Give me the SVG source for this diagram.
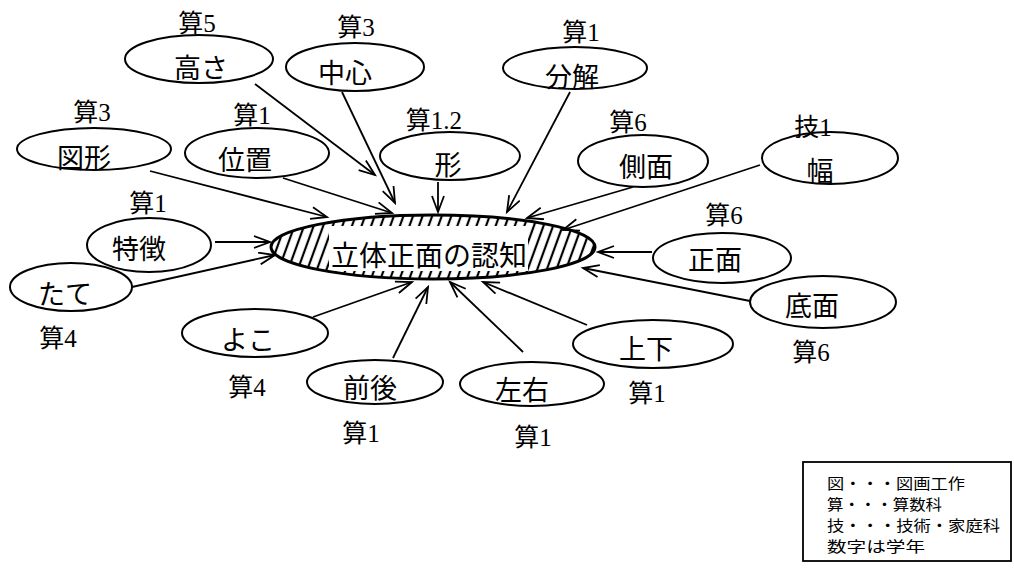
<svg xmlns="http://www.w3.org/2000/svg" width="1014" height="572" viewBox="0 0 1014 572">
<style>
.node{fill:#fff;stroke:#000;stroke-width:2}
.lbl{font-family:"Noto Sans CJK JP",sans-serif;font-size:27px;text-anchor:middle;fill:#000}
.sub{font-family:"Liberation Serif","Noto Sans CJK JP",serif;font-size:25px;text-anchor:middle;fill:#000}
.leg{font-family:"Noto Sans CJK JP",sans-serif;font-size:15px;fill:#000}
.con line{stroke:#000;stroke-width:1.8;marker-end:url(#arr)}
</style>
<defs>
<marker id="arr" markerWidth="20" markerHeight="14" refX="17" refY="7" orient="auto" markerUnits="userSpaceOnUse">
<path d="M1,1 L17,7 L1,13" fill="none" stroke="#000" stroke-width="1.8"/>
</marker>
<pattern id="hatch" width="9" height="20" patternUnits="userSpaceOnUse" patternTransform="rotate(20)">
<line x1="3" y1="0" x2="3" y2="20" stroke="#000" stroke-width="2.2"/>
</pattern>
<clipPath id="cclip"><ellipse cx="433" cy="247" rx="162" ry="32"/></clipPath>
</defs>
<rect width="1014" height="572" fill="#fff"/>

<g id="connectors" class="con">
<line x1="255" y1="84" x2="375" y2="175"/>
<line x1="342" y1="92" x2="395" y2="203"/>
<line x1="150" y1="171" x2="327" y2="217"/>
<line x1="283" y1="178" x2="392" y2="213"/>
<line x1="438" y1="182" x2="438" y2="212"/>
<line x1="570" y1="92" x2="507" y2="212"/>
<line x1="633" y1="187" x2="527" y2="218"/>
<line x1="760" y1="165" x2="563" y2="230"/>
<line x1="215" y1="242" x2="270" y2="242"/>
<line x1="132" y1="287" x2="275" y2="255"/>
<line x1="652" y1="252" x2="598" y2="252"/>
<line x1="750" y1="301" x2="583" y2="268"/>
<line x1="313" y1="317" x2="412" y2="282"/>
<line x1="393" y1="358" x2="428" y2="287"/>
<line x1="523" y1="352" x2="450" y2="282"/>
<line x1="587" y1="325" x2="483" y2="282"/>
</g>

<g id="center">
<ellipse cx="433" cy="247" rx="162" ry="32" fill="url(#hatch)"/>
<rect x="329" y="226" width="199" height="45" fill="#fff" clip-path="url(#cclip)"/>
<ellipse cx="433" cy="247" rx="162" ry="32" fill="none" stroke="#000" stroke-width="3"/>
<text x="429" y="266" font-family="Noto Sans CJK JP,sans-serif" font-size="28" text-anchor="middle">立体正面の認知</text>
</g>

<g id="n-takasa"><ellipse class="node" cx="199" cy="59" rx="74" ry="24"/><text class="lbl" x="201" y="78">高さ</text><text class="sub" x="197" y="32">算5</text></g>
<g id="n-chushin"><ellipse class="node" cx="355" cy="67" rx="69" ry="24"/><text class="lbl" x="345" y="83">中心</text><text class="sub" x="356" y="36">算3</text></g>
<g id="n-zukei"><ellipse class="node" cx="94" cy="149" rx="77" ry="21"/><text class="lbl" x="84" y="168">図形</text><text class="sub" x="92" y="121">算3</text></g>
<g id="n-ichi"><ellipse class="node" cx="257" cy="153" rx="72" ry="25"/><text class="lbl" x="245" y="170">位置</text><text class="sub" x="252" y="124">算1</text></g>
<g id="n-katachi"><ellipse class="node" cx="450" cy="156" rx="70" ry="24"/><text class="lbl" x="448" y="175">形</text><text class="sub" x="434" y="129">算1.2</text></g>
<g id="n-bunkai"><ellipse class="node" cx="575" cy="68" rx="72" ry="21"/><text class="lbl" x="572" y="87">分解</text><text class="sub" x="581" y="41">算1</text></g>
<g id="n-sokumen"><ellipse class="node" cx="643" cy="161" rx="65" ry="26"/><text class="lbl" x="646" y="177">側面</text><text class="sub" x="628" y="131">算6</text></g>
<g id="n-haba"><ellipse class="node" cx="830" cy="158" rx="68" ry="26"/><text class="lbl" x="820" y="181">幅</text><text class="sub" x="813" y="136">技1</text></g>
<g id="n-tokucho"><ellipse class="node" cx="149" cy="245" rx="62" ry="27"/><text class="lbl" x="139" y="259">特徴</text><text class="sub" x="148" y="212">算1</text></g>
<g id="n-tate"><ellipse class="node" cx="71" cy="287" rx="61" ry="24"/><text class="lbl" x="65" y="304">たて</text><text class="sub" x="58" y="347">算4</text></g>
<g id="n-yoko"><ellipse class="node" cx="255" cy="333" rx="73" ry="24"/><text class="lbl" x="248" y="350">よこ</text><text class="sub" x="247" y="396">算4</text></g>
<g id="n-zengo"><ellipse class="node" cx="375" cy="382" rx="68" ry="22"/><text class="lbl" x="370" y="398">前後</text><text class="sub" x="361" y="442">算1</text></g>
<g id="n-sayu"><ellipse class="node" cx="532" cy="384" rx="72" ry="22"/><text class="lbl" x="522" y="400">左右</text><text class="sub" x="533" y="446">算1</text></g>
<g id="n-joge"><ellipse class="node" cx="653" cy="344" rx="80" ry="24"/><text class="lbl" x="646" y="359">上下</text><text class="sub" x="647" y="402">算1</text></g>
<g id="n-shomen"><ellipse class="node" cx="722" cy="258" rx="69" ry="25"/><text class="lbl" x="715" y="270">正面</text><text class="sub" x="724" y="224">算6</text></g>
<g id="n-teimen"><ellipse class="node" cx="823" cy="302" rx="73" ry="26"/><text class="lbl" x="812" y="316">底面</text><text class="sub" x="811" y="361">算6</text></g>

<g id="legend">
<rect x="803" y="462" width="208" height="99" fill="#fff" stroke="#000" stroke-width="1.8"/>
<text class="leg" x="827" y="489" textLength="138" lengthAdjust="spacingAndGlyphs">図・・・図画工作</text>
<text class="leg" x="827" y="510" textLength="115" lengthAdjust="spacingAndGlyphs">算・・・算数科</text>
<text class="leg" x="827" y="531" textLength="173" lengthAdjust="spacingAndGlyphs">技・・・技術・家庭科</text>
<text class="leg" x="827" y="552" textLength="98" lengthAdjust="spacingAndGlyphs">数字は学年</text>
</g>
</svg>
